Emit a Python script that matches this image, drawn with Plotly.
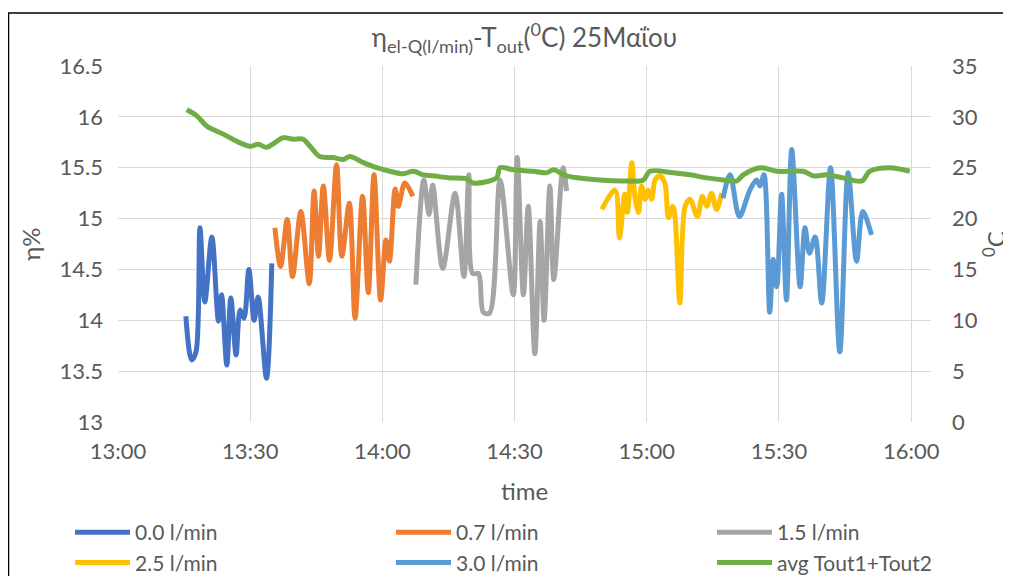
import plotly.graph_objects as go

DAY = "2019-05-25 "

# 0.0 l/min
t_q00 = ["13:15:24", "13:16:42", "13:17:42", "13:18:36", "13:19:42", "13:21:18", "13:22:48", "13:23:30",
         "13:24:42", "13:25:36", "13:26:48", "13:27:42", "13:28:36", "13:29:42", "13:30:54", "13:31:48",
         "13:33:42", "13:34:54"]
eta_q00 = [14.04, 13.61, 13.69, 14.91, 14.18, 14.82, 13.99, 14.25, 13.56, 14.22, 13.66, 14.10, 14.02,
           14.50, 14.00, 14.23, 13.43, 14.56]

# 0.7 l/min
t_q07 = ["13:35:36", "13:36:54", "13:38:24", "13:39:36", "13:41:30", "13:43:24", "13:44:30", "13:45:30",
         "13:46:36", "13:48:00", "13:49:36", "13:50:48", "13:52:30", "13:53:48", "13:55:30", "13:56:48",
         "13:58:06", "13:59:36", "14:00:48", "14:01:36", "14:02:54", "14:03:36", "14:05:06", "14:06:54"]
eta_q07 = [14.91, 14.53, 14.99, 14.43, 15.07, 14.36, 15.27, 14.63, 15.32, 14.59, 15.53, 14.63, 15.15,
           14.02, 15.22, 14.27, 15.43, 14.20, 14.79, 14.58, 15.29, 15.12, 15.35, 15.22]

# 1.5 l/min
t_q15 = ["14:07:36", "14:09:24", "14:10:36", "14:11:24", "14:13:42", "14:16:30", "14:18:30", "14:19:36",
         "14:20:30", "14:21:48", "14:22:54", "14:24:18", "14:26:42", "14:29:42", "14:30:36", "14:32:00",
         "14:33:06", "14:34:36", "14:35:48", "14:36:42", "14:38:00", "14:38:54", "14:41:00", "14:41:48"]
eta_q15 = [14.35, 15.38, 15.04, 15.33, 14.51, 15.25, 14.43, 15.43, 14.46, 14.46, 14.08, 14.07, 15.38,
           14.25, 15.60, 14.25, 15.12, 13.67, 14.97, 14.00, 15.32, 14.40, 15.50, 15.27]

# 2.5 l/min
t_q25 = ["14:49:48", "14:52:48", "14:53:48", "14:55:00", "14:55:36", "14:56:36", "14:57:18", "14:58:06",
         "14:58:48", "14:59:36", "15:00:18", "15:01:06", "15:01:54", "15:03:00", "15:04:06", "15:04:54",
         "15:05:54", "15:06:24", "15:07:30", "15:08:42", "15:09:48", "15:11:30", "15:12:36", "15:13:36",
         "15:14:42", "15:15:48", "15:17:00"]
eta_q25 = [15.09, 15.28, 14.81, 15.24, 15.06, 15.55, 15.22, 15.06, 15.32, 15.19, 15.28, 15.19, 15.38,
           15.42, 15.35, 15.01, 15.12, 15.02, 14.17, 15.12, 15.19, 15.02, 15.22, 15.12, 15.25, 15.09, 15.25]

# 3.0 l/min
t_q30 = ["15:17:18", "15:18:54", "15:21:00", "15:23:24", "15:24:54", "15:25:42", "15:26:36", "15:27:54",
         "15:28:42", "15:29:30", "15:30:36", "15:31:42", "15:32:54", "15:34:48", "15:35:54", "15:36:54",
         "15:38:12", "15:39:42", "15:41:42", "15:43:48", "15:45:42", "15:47:36", "15:49:00", "15:51:00"]
eta_q30 = [15.20, 15.43, 15.02, 15.28, 15.38, 15.32, 15.43, 14.08, 14.60, 14.33, 15.24, 14.20, 15.68,
           14.33, 14.91, 14.66, 14.82, 14.17, 15.50, 13.69, 15.45, 14.58, 15.07, 14.84]

# avg Tout1+Tout2 (°C, right axis)
t_temp = ["13:15:36", "13:17:54", "13:20:06", "13:23:54", "13:26:54", "13:30:00", "13:31:48", "13:33:42",
          "13:35:12", "13:37:30", "13:39:48", "13:42:00", "13:43:36", "13:45:48", "13:48:54", "13:51:06",
          "13:52:36", "13:55:42", "13:58:42", "14:01:42", "14:04:42", "14:07:00", "14:09:18", "14:11:30",
          "14:15:18", "14:19:06", "14:20:36", "14:25:54", "14:26:42", "14:29:42", "14:34:12", "14:37:18",
          "14:38:48", "14:41:48", "14:49:24", "14:54:42", "14:59:12", "15:00:42", "15:06:00", "15:09:48",
          "15:13:36", "15:17:24", "15:20:24", "15:21:54", "15:25:42", "15:29:30", "15:35:30", "15:37:48",
          "15:40:48", "15:44:36", "15:48:48", "15:50:36", "15:55:12", "15:59:42"]
temp = [30.7, 30.1, 29.1, 28.3, 27.6, 27.1, 27.3, 27.0, 27.35, 27.95, 27.8, 27.8, 27.1, 26.1, 26.0, 25.8,
        26.1, 25.5, 25.0, 24.65, 24.4, 24.65, 24.3, 24.2, 24.0, 23.9, 23.5, 24.0, 25.0, 24.8, 24.65, 24.5,
        24.8, 24.2, 23.8, 23.7, 23.8, 24.65, 24.5, 24.3, 24.0, 23.8, 23.7, 24.3, 25.0, 24.65, 24.65, 24.2,
        24.3, 24.0, 23.7, 24.65, 25.0, 24.65]

FONT = "Lato, 'Liberation Sans', sans-serif"
TXT = "#595959"
GRID = "#D9D9D9"

series = [
    ("0.0 l/min", t_q00, eta_q00, "#4472C4", "y", "legend"),
    ("0.7 l/min", t_q07, eta_q07, "#ED7D31", "y", "legend2"),
    ("1.5 l/min", t_q15, eta_q15, "#A5A5A5", "y", "legend3"),
    ("2.5 l/min", t_q25, eta_q25, "#FFC000", "y", "legend"),
    ("3.0 l/min", t_q30, eta_q30, "#5B9BD5", "y", "legend2"),
    ("avg Tout1+Tout2", t_temp, temp, "#70AD47", "y2", "legend3"),
]

fig = go.Figure()
for name, tt, vv, col, yax, leg in series:
    fig.add_trace(go.Scatter(
        x=[DAY + s for s in tt], y=vv, name=name, mode="lines", yaxis=yax,
        line=dict(color=col, width=5, shape="spline", smoothing=0.9),
        legend=leg, legendgroup=name,
    ))

# page body has an 8px margin: figure is drawn at (8, 8)
W, H = 1003, 568
L, T = 110, 58
R = W - 923
B = H - 414
pw, ph = W - L - R, H - T - B

def px_x(px):
    return (px - L) / pw

def px_y(py):
    return (H - B - py) / ph

legend_common = dict(orientation="v", xanchor="left", yanchor="top", y=px_y(504),
                     font=dict(family=FONT, size=21, color=TXT), bgcolor="rgba(0,0,0,0)",
                     tracegroupgap=0, traceorder="grouped", itemwidth=55)

fig.update_layout(
    width=W, height=H,
    margin=dict(l=L, r=R, t=T, b=B, autoexpand=False),
    paper_bgcolor="white", plot_bgcolor="white",
    font=dict(family=FONT, color=TXT),
    title=dict(
        text="η<sub>el-Q(l/min)</sub>-T<sub>out</sub>(<sup>0</sup>C) 25Μαΐου",
        x=0.5, xref="paper", xanchor="center",
        y=1 - 30 / H, yref="container", yanchor="middle",
        font=dict(family=FONT, size=26, color=TXT),
    ),
    xaxis=dict(
        type="date", automargin=False,
        range=[DAY + "13:00:00", DAY + "16:04:30"],
        tickformat="%H:%M", dtick=30 * 60 * 1000, tick0=DAY + "13:00:00",
        showgrid=True, gridcolor=GRID, gridwidth=1,
        showline=False, zeroline=False, ticks="",
        tickfont=dict(family=FONT, size=22, color=TXT),
        ticklabelstandoff=14,
        title=dict(text="time", font=dict(family=FONT, size=24, color=TXT), standoff=20),
    ),
    yaxis=dict(
        range=[13, 16.5], dtick=0.5, tick0=13, automargin=False,
        showgrid=True, gridcolor=GRID, gridwidth=1,
        showline=False, zeroline=False, ticks="",
        tickfont=dict(family=FONT, size=22, color=TXT),
        ticklabelstandoff=14,
        title=dict(text="η%", font=dict(family=FONT, size=24, color=TXT), standoff=12),
    ),
    yaxis2=dict(
        range=[0, 35], dtick=5, tick0=0, overlaying="y", side="right", automargin=False,
        showgrid=False, showline=False, zeroline=False, ticks="",
        tickfont=dict(family=FONT, size=22, color=TXT),
        ticklabelstandoff=20,
        title=dict(text="<sup>0</sup>C", font=dict(family=FONT, size=24, color=TXT), standoff=10),
    ),
    legend=dict(x=px_x(62), **legend_common),
    legend2=dict(x=px_x(383), **legend_common),
    legend3=dict(x=px_x(704), **legend_common),
    shapes=[dict(type="rect", xref="paper", yref="paper",
                 x0=px_x(0.5), x1=px_x(1030), y0=px_y(600), y1=px_y(5),
                 line=dict(color="black", width=1.5), fillcolor="rgba(0,0,0,0)", layer="below")],
)

fig.write_html("out.html")
